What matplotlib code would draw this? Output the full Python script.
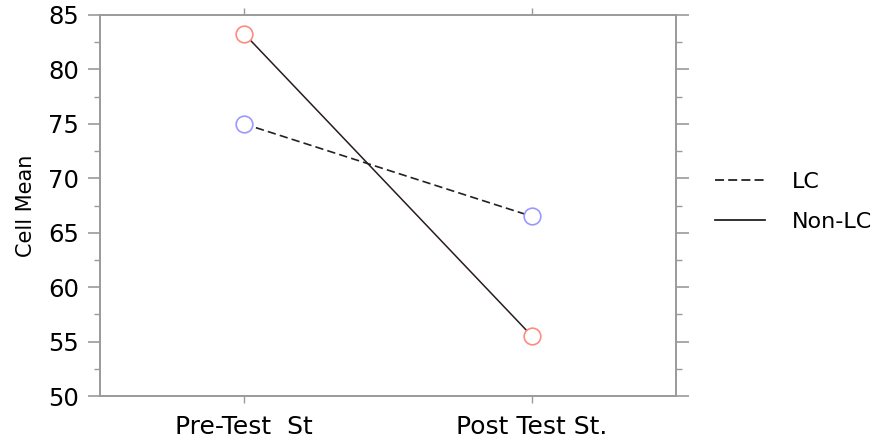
import matplotlib.pyplot as plt
from matplotlib.lines import Line2D
from matplotlib.ticker import MultipleLocator

# data
categories = ["Pre-Test  St", "Post Test St."]
lc_means = [75.0, 66.5]
non_lc_means = [83.3, 55.5]

spine_col = "#9a9a9a"

fig = plt.figure(figsize=(8.76, 4.41), dpi=100)
ax = fig.add_axes([100 / 876, 1 - 396 / 441, 576 / 876, 381 / 441])

x = list(range(len(categories)))
ax.plot(x, lc_means, color="#222222", linestyle=(0, (5, 2.5)), linewidth=1.2,
        marker="o", markersize=12, markerfacecolor="white",
        markeredgecolor="#9999ff", markeredgewidth=1.2)
ax.plot(x, non_lc_means, color="#2a1c1c", linestyle="-", linewidth=1.1,
        marker="o", markersize=12, markerfacecolor="white",
        markeredgecolor="#ff8a80", markeredgewidth=1.2)

ax.set_xlim(-0.5, 1.5)
ax.set_ylim(50, 85)
ax.set_xticks(x)
ax.set_xticklabels(categories, fontsize=18)
ax.yaxis.set_major_locator(MultipleLocator(5))
ax.yaxis.set_minor_locator(MultipleLocator(2.5))
ax.tick_params(axis="y", which="major", direction="out", length=9, width=1.2,
               color=spine_col, labelsize=17.5, right=True, pad=6)
ax.tick_params(axis="y", which="minor", direction="out", length=4.5, width=1.0,
               color=spine_col, right=True)
ax.tick_params(axis="x", which="major", direction="out", length=5, width=1.0,
               color=spine_col, top=True, pad=9)
ax.set_ylabel("Cell Mean", fontsize=15, labelpad=9)

for sp in ax.spines.values():
    sp.set_color(spine_col)
    sp.set_linewidth(1.4)

handles = [
    Line2D([], [], color="#222222", linestyle=(0, (5, 2.3)), linewidth=1.3),
    Line2D([], [], color="#222222", linestyle="-", linewidth=1.3),
]
fig.legend(handles, ["LC", "Non-LC"], loc="center left",
           bbox_to_anchor=(706 / 876, 1 - 202 / 441), frameon=False,
           borderaxespad=0, fontsize=16, handlelength=2.25,
           handletextpad=1.2, labelspacing=0.92)

fig.savefig("out.png", dpi=100)
